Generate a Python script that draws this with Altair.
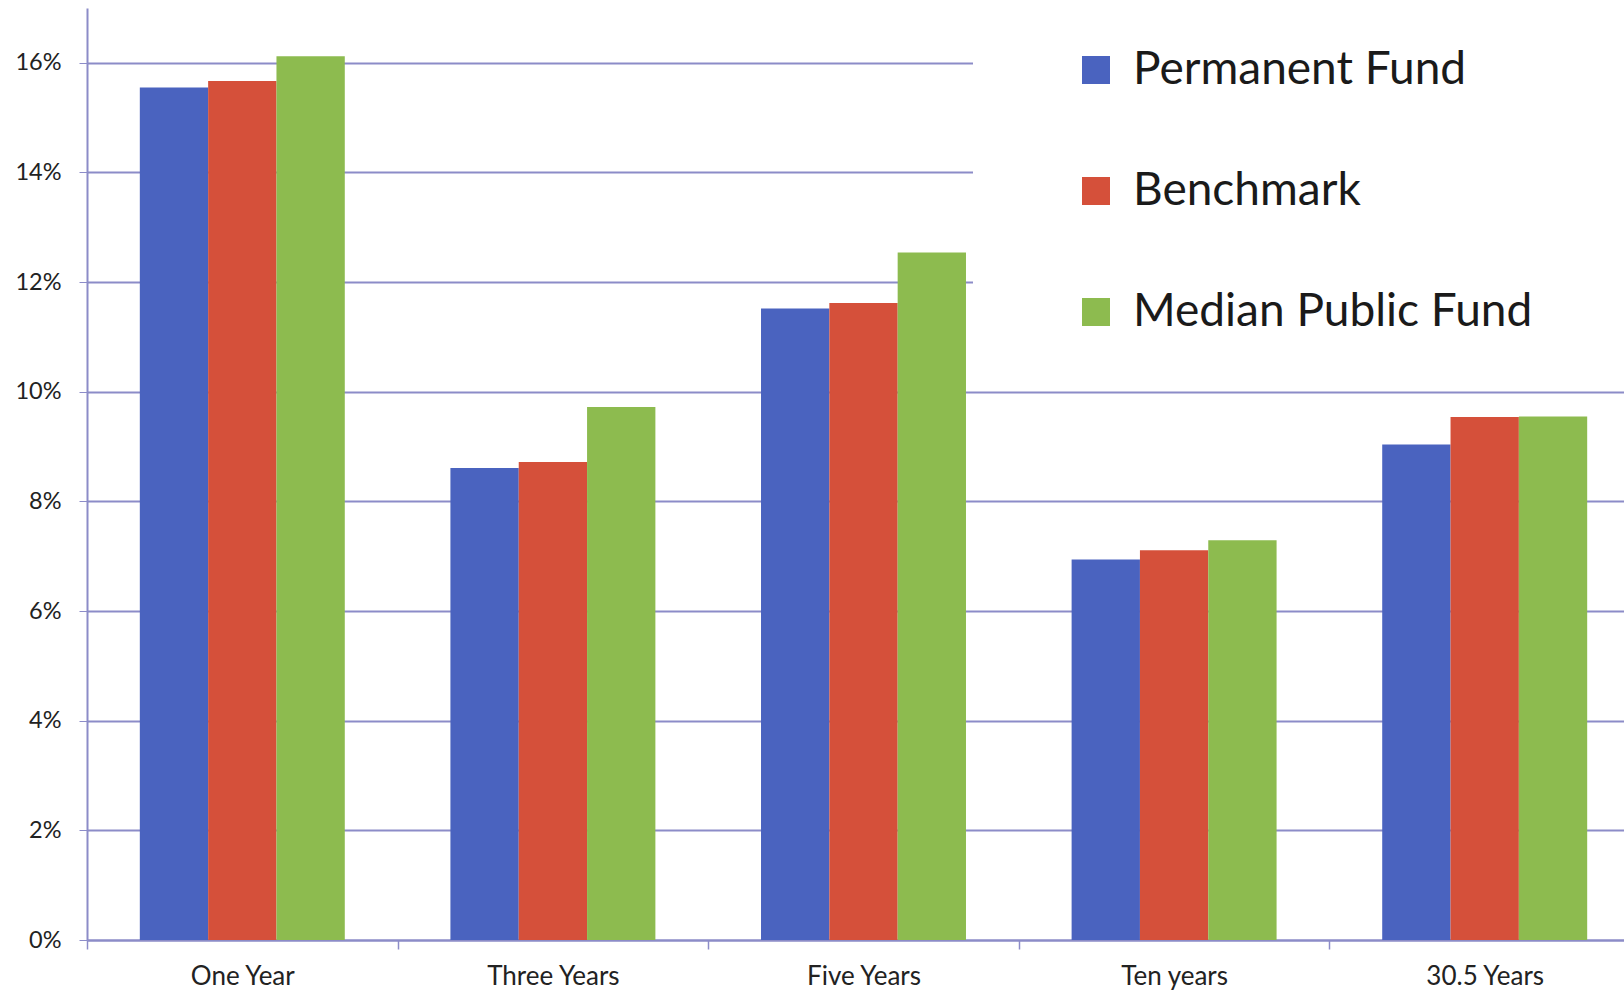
import altair as alt
import pandas as pd

categories = ["One Year", "Three Years", "Five Years", "Ten years", "30.5 Years"]
series = ["Permanent Fund", "Benchmark", "Median Public Fund"]
permanent_fund = [15.55, 8.61, 11.52, 6.94, 9.04]
benchmark = [15.67, 8.72, 11.62, 7.11, 9.54]
median_public_fund = [16.12, 9.72, 12.54, 7.29, 9.55]
colors = ["#4A63BF", "#D5503A", "#8DBB4F"]
y_ticks = [0, 2, 4, 6, 8, 10, 12, 14, 16]

rows = []
for name, vals in zip(series, [permanent_fund, benchmark, median_public_fund]):
    for c, v in zip(categories, vals):
        rows.append({"period": c, "series": name, "value": v})
df = pd.DataFrame(rows)

grid_color = "#8C8CC8"
font = "Lato"

chart = alt.Chart(df).mark_bar().encode(
    x=alt.X("period:N", sort=categories,
            scale=alt.Scale(paddingInner=0, paddingOuter=0, range=[0, 1553]),
            axis=alt.Axis(title=None, labelAngle=0, labelFontSize=26, labelFont=font,
                          labelColor="#222222", tickBand="extent", tickSize=9,
                          tickColor=grid_color, domainColor=grid_color, domainWidth=2,
                          tickWidth=1.5, labelPadding=14, grid=False)),
    xOffset=alt.XOffset("series:N", sort=series,
                        scale=alt.Scale(paddingInner=0, paddingOuter=0.773)),
    y=alt.Y("value:Q", scale=alt.Scale(domain=[0, 17], nice=False),
            axis=alt.Axis(title=None, values=y_ticks, labelExpr="datum.value + '%'",
                          labelFontSize=23.5, labelFont=font, labelColor="#222222",
                          tickSize=8, tickColor=grid_color, domainColor=grid_color,
                          domainWidth=2, gridColor=grid_color, gridWidth=2,
                          labelPadding=18)),
    color=alt.Color("series:N", sort=series,
                    scale=alt.Scale(domain=series, range=colors),
                    legend=alt.Legend(title=" ", titleOrient="left", titlePadding=50,
                                      orient="none", legendX=886, legendY=-11,
                                      symbolType="square", symbolSize=784,
                                      symbolStrokeWidth=0, labelFontSize=46,
                                      labelFont=font, labelColor="#1a1a1a",
                                      labelExpr="datum.label + '\u2800\u2800'",
                                      labelOffset=14, rowPadding=75, padding=50,
                                      fillColor="white", labelLimit=800)),
).properties(
    width=1537, height=932,
    autosize=alt.AutoSizeParams(type="none"),
    padding={"left": 87, "top": 8, "right": 0, "bottom": 50},
).configure(background="white").configure_view(strokeWidth=0)

chart.save("out.html", embed_options={"renderer": "svg", "actions": False})
